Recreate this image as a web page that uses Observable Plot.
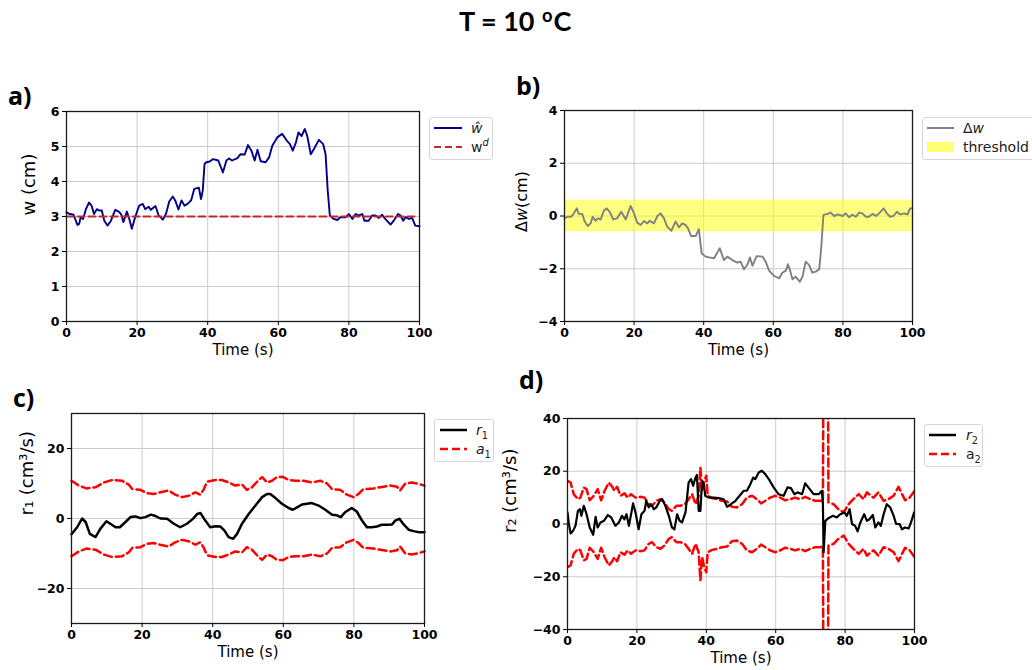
<!DOCTYPE html>
<html><head><meta charset="utf-8">
<script src="https://cdn.jsdelivr.net/npm/d3@7"></script>
<script src="https://cdn.jsdelivr.net/npm/@observablehq/plot@0.6"></script>
<style>
body{margin:0;width:1032px;height:670px;background:#fff;position:relative;overflow:hidden;font-family:"DejaVu Sans",sans-serif;}
.abs{position:absolute;}
.title{font-family:Lato,"Open Sans",sans-serif;font-weight:bold;font-size:27px;line-height:1;white-space:nowrap;}
.title sup{font-size:68%;vertical-align:0.5em;margin-left:1px;margin-right:1px;}
.letter{font-family:"Open Sans",sans-serif;font-weight:bold;font-size:25px;line-height:1;}
.legend{position:absolute;border:1px solid #d6d6d6;border-radius:3px;background:#fff;font-size:14px;color:#222;}
.legend .row{position:absolute;}
.legend .txt{position:absolute;line-height:1;white-space:nowrap;}
.legend sub,.legend sup{font-size:70%;line-height:0;}
</style></head><body>
<script>
// ---------- data ----------
const ticksX = [0, 20, 40, 60, 80, 100];

// panel a
const tA = [0,0.7,2,3.1,3.6,4.0,4.7,5.5,6.4,7.1,7.8,8.6,9.3,10,10.7,11.6,12.6,13.8,14.8,15.5,16.1,17.1,17.8,18.5,19.5,20.6,21.6,22.3,23.3,23.9,25.2,26.1,27.3,28.2,29.1,30.1,30.8,31.7,32.6,33.4,34.3,35.3,36.2,37.5,38.1,38.6,39.1,39.6,40.6,41.5,43.0,44.3,45.3,46.0,46.9,48.4,49.3,50.5,51.4,52.4,53.3,54.1,55.0,56.4,57.4,58.3,59.7,61.1,62.4,63.3,64.1,65.0,65.7,66.6,67.5,68.2,69.2,70.1,71.5,72.7,73.4,74.0,74.6,75.7,76.7,77.6,79.1,80.0,81.0,81.9,82.8,83.8,84.4,85.6,86.6,87.5,88.5,89.4,90.3,91.8,92.7,93.9,94.6,95.4,96.0,97.0,97.9,98.8,100];
const wHat = [3.12,3.08,3.05,2.76,2.79,2.98,2.93,3.21,3.40,3.31,3.07,3.21,3.17,3.17,2.88,2.74,2.88,3.19,3.14,3.06,2.84,3.14,2.93,2.65,3.00,3.31,3.36,3.21,3.28,3.19,3.30,3.03,2.91,3.08,3.43,3.57,3.46,3.20,3.46,3.31,3.36,3.46,3.79,3.82,3.50,3.74,4.50,4.55,4.57,4.64,4.60,4.26,4.60,4.66,4.60,4.67,4.78,4.77,5.04,4.88,4.60,4.91,4.58,4.55,4.69,5.02,5.26,5.36,5.17,5.07,4.88,5.12,5.40,5.30,5.50,5.30,4.78,4.93,5.19,5.07,4.78,3.74,3.03,2.93,2.90,2.98,2.98,3.07,2.93,3.07,3.03,3.07,2.88,2.88,3.03,3.03,2.96,3.05,2.93,2.77,2.88,3.07,3.03,2.88,2.98,2.93,2.96,2.74,2.72];
const tD = [0, 99];
const wD = [3, 3];
const ticksYA = [0, 1, 2, 3, 4, 5, 6];

// panel b
const tB = [0,0.8,1.9,2.7,3.5,4.1,5.1,5.8,6.7,7.5,8.1,8.9,9.6,10.4,11.3,12.1,13,14,15.1,16.3,17.6,19,19.9,20.9,21.9,22.8,23.8,24.5,25.7,26.7,27.6,28.6,29.5,30.7,31.9,32.9,33.8,34.8,35.5,36.4,37.7,38.6,39.4,40.3,41.5,43,44.6,45.8,46.8,48.2,49.7,50.6,51.6,52.5,53.3,54,55.2,56.9,57.8,58.8,60.2,61.7,62.6,63.6,64.2,64.8,65.5,66.4,67.6,68.4,69.3,70.3,71.2,72.2,73.2,73.8,74.4,75.6,76.5,77.5,78.6,79.9,80.8,81.8,82.7,83.7,84.7,85.6,86.6,87.5,88.5,89.5,90.4,91.7,92.6,93.6,94.5,95.5,96.5,97.6,98.6,99.3,100];
const dW = [-0.09,-0.03,-0.03,0.1,0.29,0.08,0.08,-0.21,-0.38,-0.28,-0.03,-0.18,-0.09,-0.13,0.2,0.29,0.16,-0.13,-0.09,0.16,-0.13,0.38,0.13,-0.25,-0.34,-0.19,-0.28,-0.18,-0.28,0.0,0.1,-0.09,-0.4,-0.56,-0.21,-0.43,-0.28,-0.34,-0.47,-0.76,-0.76,-0.5,-1.41,-1.52,-1.57,-1.6,-1.22,-1.67,-1.54,-1.67,-1.77,-1.73,-2.02,-1.86,-1.57,-1.89,-1.52,-1.54,-1.73,-2.07,-2.27,-2.36,-2.15,-2.07,-1.83,-2.05,-2.4,-2.3,-2.49,-2.3,-1.73,-1.86,-2.15,-2.11,-2.02,-1.16,0.04,0.08,0.13,0,0.06,0,0.1,-0.05,0.05,-0.03,0.13,0.1,-0.03,-0.03,0.08,0,0.1,0.29,0.1,-0.03,0,0.16,0.06,0.1,0.06,0.29,0.29];
const thresholdLow = -0.6, thresholdHigh = 0.6;
const ticksYB = [-4, -2, 0, 2, 4];

// panel c
const tC = [0,1.6,3,4,5.2,6.8,8.2,9.9,11,12.5,13.7,15.3,16.7,18.1,19.5,20.9,22.5,23.8,25.2,27.1,29,30.8,32.7,34.4,35.6,36.5,37.9,39.3,40.8,42.2,43.3,44.5,45.8,46.9,48.3,50.2,52.1,54,55.4,56.3,57.7,59.6,61.5,62.7,63.9,65.3,66.7,68.1,70,71.9,73.8,75.2,76.3,77.5,79.4,80.8,82.3,83.7,85.1,86.5,87.9,89.3,90.8,91.7,92.9,94.1,95.5,96.9,98.3,100];
const r1 = [-4.5,-2.5,0,-1,-4.4,-5.3,-2.9,-0.8,-1.5,-2.5,-2.5,-1,0.4,0.6,0.1,0.4,1.1,0.7,0,-0.1,-1.5,-2.5,-1.5,-0.1,1.3,1.6,-0.6,-2.5,-2.2,-2.3,-3.4,-5.3,-5.8,-4.4,-1.5,1.3,3.7,6.1,7,7,5.9,4.2,3,2.5,3.2,4,4.2,4.4,3.7,2.5,1.1,0.9,0.4,1.8,3,2,-0.6,-2.5,-2.5,-2.3,-1.8,-1.8,-1.7,-0.6,-0.1,-1.7,-3.2,-3.6,-3.9,-3.9];
const tA1 = [0,2.1,4.2,6.8,9.2,11.5,14.3,16.2,17.2,19.5,21.4,23.3,25.2,27.5,29.4,31.3,33.2,35.1,36.5,37.5,38.4,40.8,42.6,44.5,46.4,48.3,49.7,51.1,53,54,55.4,56.8,58.2,59.9,61.5,63.4,65.8,68.1,70.5,72.4,73.8,76.1,78,79.9,81.3,82.7,85.6,88.4,90.3,92.2,93.1,94.5,96.4,98.3,100];
const a1 = [10.8,9.4,8.6,8.9,10.3,11,10.8,9.7,8.4,8.2,7.2,7,7.5,8,6.8,6.1,6.5,7.5,6.8,8.4,10.5,11,11,10.3,9.4,9.7,8.2,8.9,11,11.8,10.3,10.8,11.8,11.9,11,10.8,10.8,10.3,10.8,10,8.4,8.2,6.8,6.1,7,8.4,8.6,9.1,9.4,9.1,8,9.9,10.3,9.9,9.4];
const ticksYC = [-20, 0, 20];

// panel d
const tR2 = [0,0.4,0.9,1.6,2.3,3,3.6,4,4.7,5.5,6.4,7.4,8.1,8.7,9.5,10.5,11.6,12.6,13.8,14.8,15.7,16.4,17,17.7,18.9,19.6,20.5,21.3,22.2,22.7,23.4,24.1,24.9,25.6,26.6,27.3,28.2,29.2,30.1,30.8,31.6,32.3,33,34,34.9,35.6,36.2,36.9,37.3,37.8,38.3,38.8,39.3,39.7,40.7,42.1,43.6,45,46,46.9,48.4,49.6,50.8,51.7,52.7,53.5,54.1,55.1,56,57,58.3,59.4,60.8,62.3,63.4,64.4,65.4,66.3,67.6,68.5,69.8,70.9,72.4,73.3,73.6,73.8,74.3,75.2,76.5,77.6,78.6,79.8,80.5,81.3,82,82.9,83.6,84.4,85.5,86.3,87,88,88.7,89.6,90.3,91.1,92,93,94,94.7,95.7,96.4,97.3,98.3,99,99.9];
const r2 = [4.4,0,-3.6,-2.6,-0.7,5,5.6,3.1,6.9,3.7,-1.3,-4.1,2.7,-1.3,0.6,1.2,3.4,2.5,-0.7,0.6,3.1,1.8,3.7,-0.7,7.8,4.4,-2,3.7,5,8.8,6.3,7.5,5.6,6.3,8.8,9.4,6.9,3.1,-1.3,-2,3.7,1.2,0.6,4.4,15.7,17,14.5,17.6,18.6,5,5,16.4,15.1,10.7,10,10,9.8,9.4,6.5,7.3,8.8,10.7,12.6,12.6,15.1,17.6,17,19.5,20.2,18.9,16.4,13.9,11.3,10.7,13.9,13.6,11.3,12,11.3,15.4,13.2,11.3,11.3,12.6,8.2,-10.8,1.2,2.2,3.1,2.5,3.7,4.4,3.1,5.6,0,-0.7,-2.8,0.6,3.7,1.2,1.8,3.4,-1.3,0.6,-0.7,3.7,7.5,6.3,3.1,0,0,-2,-1.3,-1.7,0.6,4.4];
const tA2 = [0,0.9,1.8,3,3.7,4.7,5.5,6.4,7.6,8.7,9.7,10.7,11.9,12.9,13.5,14.3,15.3,16.4,17.4,18.3,19.6,21,22.2,23.4,24.4,25.6,26.8,27.9,29.2,30.1,31.4,32.5,33.8,34.9,35.9,36.9,37.8,38.3,38.8,39.4,40,40.4,41.7,43.1,44.5,46,47.4,48.8,50.3,51.7,53.2,54.6,55.8,57,58.4,59.9,61.3,62.8,64.2,65.6,67.1,68.5,70,71.4,72.8,73.6,73.8,75.0,75.2,76.7,78.1,79.6,81,82.4,83.9,85.3,86.3,87.4,88.2,89.6,91.1,92.5,94,95.4,96.4,97.3,98.6,100];
const a2 = [16.4,15.7,11.3,9.4,10,13.8,13.2,9,10.7,13.2,9,12.6,15.7,14.1,12.6,14.1,10.7,11.6,10,11.3,10,10.3,10,7.5,6.9,8.8,9.4,8.2,5.6,5,6.9,6.9,7.5,9.4,11.3,7.5,10.7,21.4,12.6,16.4,18.3,10.7,9.8,9.4,8.8,8.5,6.5,6.3,7.5,10,10.7,9.4,7.8,8.8,10,10.7,10,9,9.4,10,9.4,10.3,9.4,8.8,8.8,8.5,80,80,8.2,7.5,5.6,4.4,7.5,9.4,11.3,9.4,12,10.7,10,12,8.8,9.4,10.7,14.1,11.3,9,10,12.6];
const ticksYD = [-40, -20, 0, 20, 40];

// ---------- helpers ----------
const fmt = d => (d < 0 ? "\u2212" : "") + Math.abs(d);
const pts = (xs, ys, sign = 1) => xs.map((x, i) => [x, sign * ys[i]]);

function place(el, left, top, width) {
  const div = document.createElement("div");
  div.className = "abs";
  div.style.left = left + "px";
  div.style.top = top + "px";
  if (width) div.style.width = width + "px";
  div.appendChild(el);
  document.body.appendChild(div);
  return div;
}

function panel(cfg) {
  const gridStyle = {stroke: "#cccccc", strokeOpacity: 1, strokeWidth: 1};
  const svg = Plot.plot({
    width: cfg.width, height: cfg.height,
    marginLeft: cfg.mL, marginRight: cfg.mR, marginTop: cfg.mT, marginBottom: cfg.mB,
    x: {domain: [0, 100]},
    y: {domain: cfg.yDomain},
    style: {fontFamily: "DejaVu Sans", fontSize: "12px", color: "black", background: "transparent"},
    marks: [
      Plot.gridX({ticks: ticksX, ...gridStyle}),
      Plot.gridY({ticks: cfg.yTicks, ...gridStyle}),
      ...cfg.marks,
      Plot.frame({stroke: "#1a1a1a", strokeWidth: 1.3}),
      Plot.axisX({ticks: ticksX, tickSize: 4, tickPadding: 3, fontSize: 12.5, fontWeight: "bold", label: null, tickFormat: fmt}),
      Plot.axisY({ticks: cfg.yTicks, tickSize: 4, tickPadding: 3, fontSize: 12.5, fontWeight: "bold", label: null, tickFormat: fmt}),
      Plot.text(["Time (s)"], {frameAnchor: "bottom", dy: 33, fontSize: 15}),
      Plot.text([cfg.ylabel], {frameAnchor: "left", dx: cfg.ylDx, dy: cfg.ylDy, rotate: -90, fontSize: cfg.ylSize})
    ]
  });
  d3.select(svg).selectAll('g[aria-label$="tick label"]').attr("font-weight", "bold");
  if (cfg.post) cfg.post(svg);
  place(svg, cfg.left, cfg.top, cfg.width);
  return svg;
}

function legend(left, top, width, height, entries) {
  const box = document.createElement("div");
  box.className = "legend";
  Object.assign(box.style, {left: left + "px", top: top + "px", width: width + "px", height: height + "px"});
  entries.forEach((e, i) => {
    const cy = 10 + i * 19;
    const s = d3.create("svg").attr("width", e.sw).attr("height", 12)
      .style("position", "absolute").style("left", e.sx + "px").style("top", (cy - 6) + "px");
    if (e.type === "rect") {
      s.append("rect").attr("x", 0).attr("y", 1).attr("width", e.sw).attr("height", 10)
        .attr("fill", e.color).attr("fill-opacity", 0.55);
    } else {
      s.append("line").attr("x1", 0).attr("x2", e.sw).attr("y1", 6).attr("y2", 6)
        .attr("stroke", e.color).attr("stroke-width", e.lw).attr("stroke-dasharray", e.dash || null);
    }
    box.appendChild(s.node());
    const t = document.createElement("div");
    t.className = "txt";
    t.style.left = e.tx + "px";
    t.style.top = (cy - 7) + "px";
    t.innerHTML = e.html;
    box.appendChild(t);
  });
  document.body.appendChild(box);
}

function text(html, cls, left, top, extra) {
  const d = document.createElement("div");
  d.className = "abs " + cls;
  d.style.left = left + "px";
  d.style.top = top + "px";
  if (extra) Object.assign(d.style, extra);
  d.innerHTML = html;
  document.body.appendChild(d);
}

// ---------- title & panel letters ----------
text("T = 10 <sup>o</sup>C", "title", 459, 6);
text("a)", "letter", 8, 83);
text("b)", "letter", 516, 73);
text("c)", "letter", 13, 385);
text("d)", "letter", 519, 367);

// ---------- panel a ----------
panel({
  left: 0, top: 100, width: 440, height: 270, mL: 66, mR: 21, mT: 11, mB: 49,
  yDomain: [0, 6], yTicks: ticksYA, ylabel: "w (cm)", ylDx: -37, ylDy: -1, ylSize: 18,
  marks: [
    Plot.line(pts(tA, wHat), {stroke: "#00008b", strokeWidth: 1.9}),
    Plot.line(pts(tD, wD), {stroke: "#c0282d", strokeWidth: 2, strokeDasharray: "7,4"})
  ]
});
legend(429, 117, 62, 41, [
  {type: "line", color: "#00008b", lw: 2, sx: 4, sw: 28, tx: 41, html: "<i>\u0175</i>"},
  {type: "line", color: "#c0282d", lw: 2, dash: "7,4", sx: 4, sw: 28, tx: 41, html: "w<sup><i>d</i></sup>"}
]);

// ---------- panel b ----------
panel({
  left: 500, top: 100, width: 432, height: 270, mL: 64, mR: 20, mT: 10, mB: 49,
  yDomain: [-4, 4], yTicks: ticksYB, ylabel: "\u0394w(cm)", ylDx: -43, ylDy: 16, ylSize: 16,
  marks: [
    Plot.rect([[thresholdLow, thresholdHigh]], {x1: 0, x2: 100, y1: d => d[0], y2: d => d[1], fill: "#ffff00", fillOpacity: 0.5}),
    Plot.line(pts(tB, dW), {stroke: "#808080", strokeWidth: 1.9})
  ],
  post: svg => {
    d3.select(svg).selectAll("text").filter(function() { return this.textContent === "\u0394w(cm)"; })
      .html('\u0394<tspan font-style="italic">w</tspan>(cm)');
  }
});
legend(922, 117, 120, 41, [
  {type: "line", color: "#808080", lw: 2, sx: 4, sw: 27, tx: 40, html: "\u0394<i>w</i>"},
  {type: "rect", color: "#ffff00", sx: 4, sw: 27, tx: 40, html: "threshold"}
]);

// ---------- panel c ----------
panel({
  left: 0, top: 400, width: 440, height: 270, mL: 71, mR: 16, mT: 13, mB: 47,
  yDomain: [-30, 30], yTicks: ticksYC, ylabel: "r\u2081 (cm\u00b3/s)", ylDx: -44, ylDy: -3, ylSize: 18,
  marks: [
    Plot.line(pts(tA1, a1), {stroke: "red", strokeWidth: 2.5, strokeDasharray: "8,4"}),
    Plot.line(pts(tA1, a1, -1), {stroke: "red", strokeWidth: 2.5, strokeDasharray: "8,4"}),
    Plot.line(pts(tC, r1), {stroke: "black", strokeWidth: 2.5})
  ]
});
legend(434, 419, 58, 41, [
  {type: "line", color: "black", lw: 2.5, sx: 5, sw: 27, tx: 41, html: "<i>r</i><sub>1</sub>"},
  {type: "line", color: "red", lw: 2.5, dash: "8,4", sx: 5, sw: 27, tx: 41, html: "<i>a</i><sub>1</sub>"}
]);

// ---------- panel d ----------
panel({
  left: 500, top: 400, width: 432, height: 270, mL: 67, mR: 18, mT: 18, mB: 41,
  yDomain: [-40, 40], yTicks: ticksYD, ylabel: "r\u2082 (cm\u00b3/s)", ylDx: -57, ylDy: 9, ylSize: 18,
  marks: [
    Plot.line(pts(tA2, a2), {stroke: "red", strokeWidth: 2.5, strokeDasharray: "8,4", clip: true}),
    Plot.line(pts(tA2, a2, -1), {stroke: "red", strokeWidth: 2.5, strokeDasharray: "8,4", clip: true}),
    Plot.line(pts(tR2, r2), {stroke: "black", strokeWidth: 2.2, clip: true})
  ]
});
legend(924, 424, 57, 41, [
  {type: "line", color: "black", lw: 2.5, sx: 4, sw: 27, tx: 41, html: "<i>r</i><sub>2</sub>"},
  {type: "line", color: "red", lw: 2.5, dash: "8,4", sx: 4, sw: 27, tx: 41, html: "a<sub>2</sub>"}
]);
</script>
</body></html>
